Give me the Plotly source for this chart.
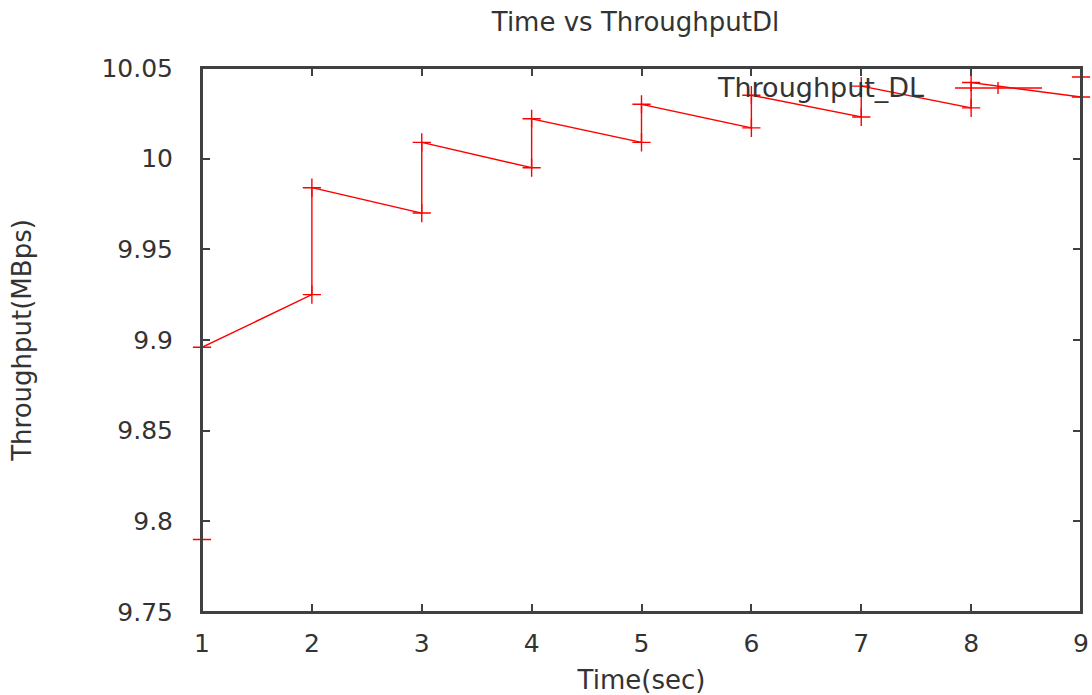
import plotly.graph_objects as go

# Measured downlink throughput, sampled at each second boundary (before/after update)
time_sec = [1, 1, 2, 2, 3, 3, 4, 4, 5, 5, 6, 6, 7, 7, 8, 8, 9, 9]
throughput_mbps = [9.790, 9.896, 9.925, 9.984, 9.970, 10.009, 9.995, 10.022,
                   10.009, 10.030, 10.017, 10.035, 10.023, 10.040, 10.028,
                   10.042, 10.034, 10.045]

x_ticks = [1, 2, 3, 4, 5, 6, 7, 8, 9]
y_ticks = [9.75, 9.8, 9.85, 9.9, 9.95, 10, 10.05]
y_tick_labels = ["9.75", "9.8", "9.85", "9.9", "9.95", "10", "10.05"]

series_name = "Throughput_DL"
title_text = "Time vs ThroughputDl"

FONT = "DejaVu Sans"
AXIS_COLOR = "#404040"
TEXT_COLOR = "#333333"
RED = "#ff0000"

W, H = 1092, 695
L, R, T, B = 202, 11, 68, 83

fig = go.Figure()
fig.add_trace(go.Scatter(
    x=time_sec, y=throughput_mbps, mode="lines+markers", name=series_name,
    line=dict(color=RED, width=1.4),
    marker=dict(symbol="cross-thin", size=13, line=dict(color=RED, width=1.4)),
    cliponaxis=False, showlegend=False,
))

pw, ph = W - L - R, H - T - B


def px_x(px):
    return (px - L) / pw


def px_y(py):
    return (H - B - py) / ph


# Plot border drawn in front of the data, as in gnuplot
fig.add_shape(type="rect", xref="paper", yref="paper", x0=0, x1=1, y0=0, y1=1,
              line=dict(color=AXIS_COLOR, width=2), layer="above")

# Key in the top-right corner: label on the left, line sample on the right
fig.add_annotation(x=px_x(926), y=px_y(87), xref="paper", yref="paper",
                   text=series_name, showarrow=False, xanchor="right",
                   yanchor="middle", font=dict(family=FONT, size=27, color=TEXT_COLOR))
fig.add_shape(type="line", xref="paper", yref="paper",
              x0=px_x(955), x1=px_x(1042), y0=px_y(88), y1=px_y(88),
              line=dict(color=RED, width=1.4))
fig.add_shape(type="line", xref="paper", yref="paper",
              x0=px_x(998), x1=px_x(998), y0=px_y(82), y1=px_y(94),
              line=dict(color=RED, width=1.4))

axis_common = dict(
    showline=True, linecolor=AXIS_COLOR, linewidth=2, mirror="allticks",
    ticks="inside", ticklen=8, tickwidth=1.5, tickcolor=AXIS_COLOR,
    showgrid=False, zeroline=False, automargin=False,
    tickfont=dict(family=FONT, size=25, color=TEXT_COLOR),
)

fig.update_layout(
    width=W, height=H,
    margin=dict(l=L, r=R, t=T, b=B),
    paper_bgcolor="white", plot_bgcolor="white",
    title=dict(text=title_text, x=(478 + 793) / 2 / W, xanchor="center",
               y=1 - 22 / H, yanchor="middle",
               font=dict(family=FONT, size=26, color=TEXT_COLOR)),
    xaxis=dict(range=[1, 9], tickvals=x_ticks,
               title=dict(text="Time(sec)", standoff=14,
                          font=dict(family=FONT, size=26, color=TEXT_COLOR)),
               ticklabelstandoff=8, **axis_common),
    yaxis=dict(range=[9.75, 10.05], tickvals=y_ticks, ticktext=y_tick_labels,
               title=dict(text="Throughput(MBps)", standoff=62,
                          font=dict(family=FONT, size=26, color=TEXT_COLOR)),
               ticklabelstandoff=22, **axis_common),
)

fig.write_html("out.html")
